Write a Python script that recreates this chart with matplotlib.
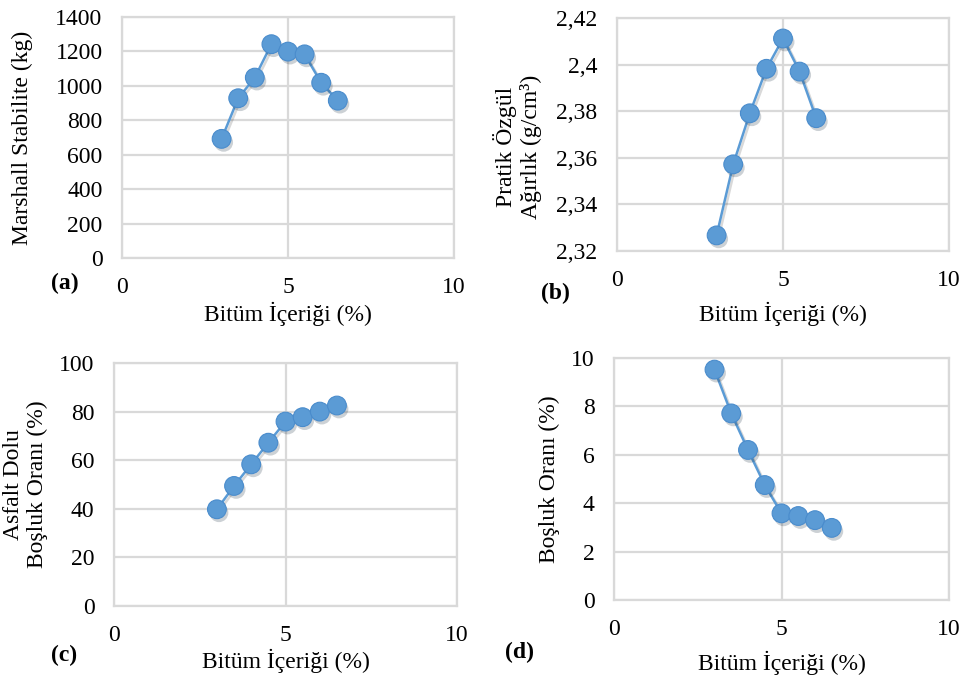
import matplotlib
matplotlib.use("Agg")
import matplotlib.pyplot as plt
import matplotlib.patheffects as pe

plt.rcParams['font.family'] = ['Liberation Serif', 'DejaVu Serif']

# data
bitum = [3, 3.5, 4, 4.5, 5, 5.5, 6, 6.5]
stabilite = [692, 928, 1048, 1242, 1199, 1183, 1018, 914]
bitum_b = [3, 3.5, 4, 4.5, 5, 5.5, 6]
ozgul = [2.3267, 2.3572, 2.3791, 2.3982, 2.4112, 2.3970, 2.3770]
adbo = [39.8, 49.4, 58.3, 67.2, 75.9, 77.7, 80.0, 82.5]
bosluk = [9.52, 7.71, 6.2, 4.75, 3.58, 3.47, 3.30, 2.98]

xlab = 'Bitüm İçeriği (%)'
xticks = [0, 5, 10]
yticks_b = [2.32, 2.34, 2.36, 2.38, 2.40, 2.42]
yticklabels_b = ['2,32', '2,34', '2,36', '2,38', '2,4', '2,42']

W, H = 963, 677
blue = '#5b9bd5'
grid = '#d9d9d9'
fs = 17

fig = plt.figure(figsize=(W / 100, H / 100), dpi=100)


def make_ax(left, right, top, bottom):
    return fig.add_axes([left / W, 1 - bottom / H, (right - left) / W, (bottom - top) / H])


def style(ax, x, y, ylim, yticks, ylabel, xlab_y, ylab_x, ylab_y=0.5, ytl=None):
    # line, then markers with a soft shadow
    ax.plot(x, y, color=blue, lw=1.8, zorder=3,
            path_effects=[pe.SimpleLineShadow(offset=(1.5, -1.5), alpha=0.15), pe.Normal()])
    ax.plot(x, y, ls='none', marker='o', ms=13.5, mfc=blue, mec='#4a8ccc', mew=0.8, zorder=4,
            path_effects=[pe.SimplePatchShadow(offset=(1.5, -2.5), alpha=0.22), pe.Normal()])
    ax.set_xlim(0, 10)
    ax.set_xticks(xticks)
    ax.set_ylim(*ylim)
    ax.set_yticks(yticks)
    if ytl is not None:
        ax.set_yticklabels(ytl)
    ax.grid(True, color=grid, lw=1.6)
    ax.set_axisbelow(True)
    for s in ax.spines.values():
        s.set_color(grid)
        s.set_linewidth(1.6)
    ax.tick_params(length=0, labelsize=fs, pad=14)
    ax.set_xlabel(xlab, fontsize=fs)
    ax.xaxis.set_label_coords(0.5, xlab_y)
    ax.set_ylabel(ylabel, fontsize=fs, linespacing=1.2)
    ax.yaxis.set_label_coords(ylab_x, ylab_y)


ax_a = make_ax(122, 454, 17, 258)
style(ax_a, bitum, stabilite, (0, 1400), range(0, 1401, 200), 'Marshall Stabilite (kg)', -0.183, -0.268)

ax_b = make_ax(617, 949, 18, 251)
style(ax_b, bitum_b, ozgul, (2.32, 2.42), yticks_b, 'Pratik Özgül\nAğırlık (g/cm³)', -0.219, -0.226,
      ylab_y=0.446, ytl=yticklabels_b)

ax_c = make_ax(114, 457, 363, 606)
style(ax_c, bitum, adbo, (0, 100), range(0, 101, 20), 'Asfalt Dolu\nBoşluk Oranı (%)', -0.177, -0.192)

ax_d = make_ax(614, 949, 358, 600)
style(ax_d, bitum, bosluk, (0, 10), range(0, 11, 2), 'Boşluk Oranı (%)', -0.211, -0.161)

for lab, px, py in [('(a)', 65, 283), ('(b)', 555, 293), ('(c)', 64, 655), ('(d)', 519, 652)]:
    fig.text(px / W, 1 - py / H, lab, fontsize=fs, fontweight='bold', ha='center', va='center')

fig.savefig('out.png', dpi=100)
